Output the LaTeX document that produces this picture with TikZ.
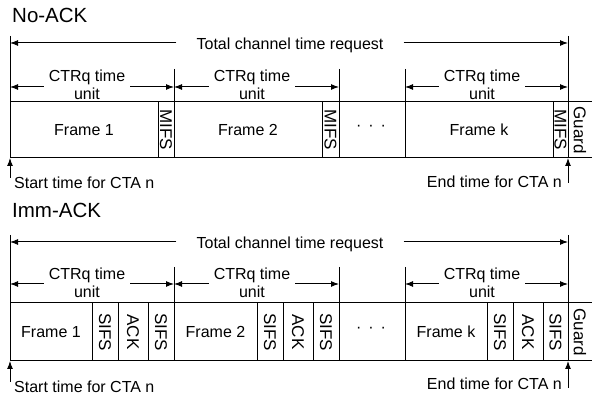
\documentclass[tikz,border=0pt]{standalone}
\usepackage{fontspec}
\setmainfont{Liberation Sans}
\usetikzlibrary{arrows.meta}
\tikzset{
  ln/.style={line width=1pt, draw=black},
  arr/.style={ln, -{Latex[length=8pt,width=6pt]}},
  lab/.style={font=\fontsize{16}{18}\selectfont, inner sep=0pt, anchor=base},
  unitlab/.style={lab, inner xsep=5pt},
  totlab/.style={lab, inner xsep=20pt},
  cl/.style={font=\fontsize{16}{18}\selectfont, inner sep=0pt, anchor=center},
  vl/.style={cl, font=\fontsize{17}{18}\selectfont, rotate=-90},
  ttl/.style={font=\fontsize{20.5}{22}\selectfont, inner sep=0pt, anchor=base west},
}
\begin{document}
\begin{tikzpicture}[x=1pt,y=-1pt]
\useasboundingbox (0,0) rectangle (592,395);

%================ No-ACK =================
\node[ttl] (title1) at (12,23) {No-ACK};
\coordinate (A1) at (10,36);
\coordinate (B1) at (568,36);
\coordinate (A1b) at (10,158);
\coordinate (B1b) at (568,158);
\draw[ln] (A1) -- (A1b);
\draw[ln] (B1) -- (B1b);
\coordinate (ytot1) at (0,43);
\node[totlab] (tot1) at (290,50) {Total channel time request};
\draw[arr] (tot1.west |- ytot1) -- (A1 |- ytot1);
\draw[arr] (tot1.east |- ytot1) -- (B1 |- ytot1);

% ticks
\coordinate (T1a) at (174,69);
\coordinate (T1b) at (339,69);
\coordinate (T1c) at (405,69);
\draw[ln] (T1a) -- (174,102);
\draw[ln] (T1b) -- (339,102);
\draw[ln] (T1c) -- (405,102);

% CTRq units
\coordinate (yu1) at (0,87);
\node[unitlab] (u1a) at (87,82) {CTRq time};
\node[lab] (u1a2) at (87,100) {unit};
\draw[arr] (u1a.west |- yu1) -- (A1 |- yu1);
\draw[arr] (u1a.east |- yu1) -- (T1a |- yu1);
\node[unitlab] (u1b) at (252,82) {CTRq time};
\node[lab] (u1b2) at (252,100) {unit};
\draw[arr] (u1b.west |- yu1) -- (T1a |- yu1);
\draw[arr] (u1b.east |- yu1) -- (T1b |- yu1);
\node[unitlab] (u1c) at (482,82) {CTRq time};
\node[lab] (u1c2) at (482,100) {unit};
\draw[arr] (u1c.west |- yu1) -- (T1c |- yu1);
\draw[arr] (u1c.east |- yu1) -- (B1 |- yu1);

% bar
\draw[ln] (10,102) -- (592,102);
\draw[ln] (10,158) -- (592,158);
\foreach \x in {158,174,322,339,405,553} \draw[ln] (\x,102) -- (\x,158);
\node[cl] (f11) at (84,130) {Frame 1};
\node[vl] (m11) at (166,130) {MIFS};
\node[cl] (f12) at (248,130) {Frame 2};
\node[vl] (m12) at (330.5,130) {MIFS};
\node[cl] (d1) at (371,128) {·\hspace{7pt}·\hspace{7pt}·};
\node[cl] (f1k) at (479,130) {Frame k};
\node[vl] (m1k) at (560.5,130) {MIFS};
\node[vl] (g1) at (580,130) {Guard};

% start / end
\coordinate (s1) at (10,178);
\coordinate (e1) at (568,183);
\draw[arr] (s1) -- (A1b);
\draw[arr] (e1) -- (B1b);
\node[lab, anchor=base west] (st1) at (14,189) {Start time for CTA n};
\node[lab, anchor=base east] (en1) at (562,188) {End time for CTA n};

%================ Imm-ACK =================
\node[ttl] (title2) at (12,218) {Imm-ACK};
\coordinate (A2) at (10,235);
\coordinate (B2) at (568,235);
\coordinate (A2b) at (10,361);
\coordinate (B2b) at (568,361);
\draw[ln] (A2) -- (A2b);
\draw[ln] (B2) -- (B2b);
\coordinate (ytot2) at (0,242);
\node[totlab] (tot2) at (290,249) {Total channel time request};
\draw[arr] (tot2.west |- ytot2) -- (A2 |- ytot2);
\draw[arr] (tot2.east |- ytot2) -- (B2 |- ytot2);

\coordinate (T2a) at (174,267);
\coordinate (T2b) at (339,267);
\coordinate (T2c) at (405,267);
\draw[ln] (T2a) -- (174,303);
\draw[ln] (T2b) -- (339,303);
\draw[ln] (T2c) -- (405,303);

\coordinate (yu2) at (0,284);
\node[unitlab] (u2a) at (87,280) {CTRq time};
\node[lab] (u2a2) at (87,298) {unit};
\draw[arr] (u2a.west |- yu2) -- (A2 |- yu2);
\draw[arr] (u2a.east |- yu2) -- (T2a |- yu2);
\node[unitlab] (u2b) at (252,280) {CTRq time};
\node[lab] (u2b2) at (252,298) {unit};
\draw[arr] (u2b.west |- yu2) -- (T2a |- yu2);
\draw[arr] (u2b.east |- yu2) -- (T2b |- yu2);
\node[unitlab] (u2c) at (482,280) {CTRq time};
\node[lab] (u2c2) at (482,298) {unit};
\draw[arr] (u2c.west |- yu2) -- (T2c |- yu2);
\draw[arr] (u2c.east |- yu2) -- (B2 |- yu2);

\draw[ln] (10,303) -- (592,303);
\draw[ln] (10,361) -- (592,361);
\foreach \x in {92,118,148,174,257,283,313,339,405,487,513,543} \draw[ln] (\x,303) -- (\x,361);
\node[cl] (f21) at (51,332) {Frame 1};
\node[vl] (s21a) at (105,332) {SIFS};
\node[vl] (a21) at (133,332) {ACK};
\node[vl] (s21b) at (161,332) {SIFS};
\node[cl] (f22) at (215.5,332) {Frame 2};
\node[vl] (s22a) at (270,332) {SIFS};
\node[vl] (a22) at (298,332) {ACK};
\node[vl] (s22b) at (326,332) {SIFS};
\node[cl] (d2) at (371,330) {·\hspace{7pt}·\hspace{7pt}·};
\node[cl] (f2k) at (446,332) {Frame k};
\node[vl] (s2ka) at (500,332) {SIFS};
\node[vl] (a2k) at (528,332) {ACK};
\node[vl] (s2kb) at (555.5,332) {SIFS};
\node[vl] (g2) at (580,332) {Guard};

\coordinate (s2) at (10,382);
\coordinate (e2) at (568,388);
\draw[arr] (s2) -- (A2b);
\draw[arr] (e2) -- (B2b);
\node[lab, anchor=base west] (st2) at (14,392) {Start time for CTA n};
\node[lab, anchor=base east] (en2) at (562,389) {End time for CTA n};
\end{tikzpicture}
\end{document}
